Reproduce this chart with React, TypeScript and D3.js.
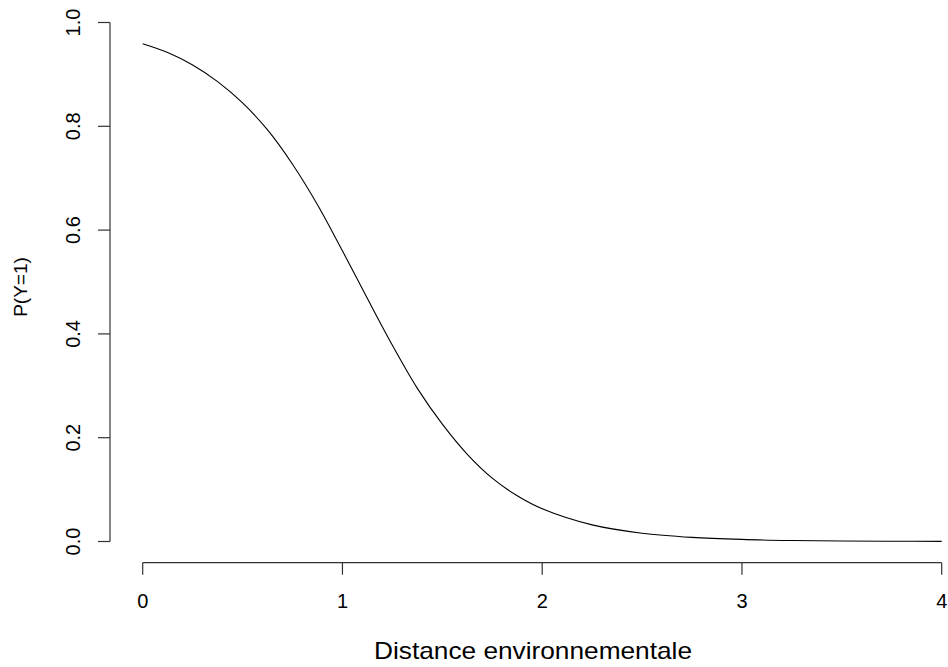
import React from "react";
import * as d3 from "d3";

// Curve values
const distance = [0, 0.125, 0.25, 0.375, 0.5, 0.625, 0.75, 0.875, 1.0, 1.125, 1.25, 1.375, 1.5, 1.625, 1.75, 1.875, 2.0, 2.25, 2.5, 2.75, 3.0, 3.25, 3.5, 3.75, 4.0];
const probability = [0.959, 0.942, 0.918, 0.886, 0.845, 0.793, 0.727, 0.649, 0.560, 0.468, 0.378, 0.295, 0.226, 0.168, 0.122, 0.088, 0.063, 0.032, 0.016, 0.008, 0.004, 0.002, 0.001, 0.0005, 0.0002];

const xTicks = [0, 1, 2, 3, 4];
const yTicks = [0, 0.2, 0.4, 0.6, 0.8, 1.0];
const xLabel = "Distance environnementale";
const yLabel = "P(Y=1)";

export default function App() {
  const W = 948, H = 667;
  const x = d3.scaleLinear().domain([0, 4]).range([142.7, 941.7]);
  const y = d3.scaleLinear().domain([0, 1]).range([541.5, 22.5]);
  const pts = distance.map((d, i) => [d, probability[i]] as [number, number]);
  const line = d3.line<[number, number]>()
    .x(d => x(d[0]))
    .y(d => y(d[1]))
    .curve(d3.curveCatmullRom.alpha(0.5));
  const axisColor = "#333";
  const font = "'Liberation Sans', Arial, sans-serif";
  const xAxisY = 562.7;
  const yAxisX = 110;
  return (
    <svg width={W} height={H} style={{ position: "absolute", left: 0, top: 0, background: "#fff" }} fontFamily={font}>
      <rect x={0} y={0} width={W} height={H} fill="#fff" />
      <path d={line(pts) || ""} fill="none" stroke="#000" strokeWidth={1.1} />
      {/* x axis */}
      <line x1={x(0)} x2={x(4)} y1={xAxisY} y2={xAxisY} stroke={axisColor} strokeWidth={1.2} />
      {xTicks.map(t => (
        <g key={"xt" + t}>
          <line x1={x(t)} x2={x(t)} y1={xAxisY} y2={xAxisY + 12} stroke={axisColor} strokeWidth={1.2} />
          <text x={x(t)} y={607.5} textAnchor="middle" fontSize={20} fill="#000">{d3.format("d")(t)}</text>
        </g>
      ))}
      {/* y axis */}
      <line x1={yAxisX} x2={yAxisX} y1={y(0)} y2={y(1)} stroke={axisColor} strokeWidth={1.2} />
      {yTicks.map(t => (
        <g key={"yt" + t}>
          <line x1={yAxisX - 12} x2={yAxisX} y1={y(t)} y2={y(t)} stroke={axisColor} strokeWidth={1.2} />
          <text transform={`translate(80,${y(t)}) rotate(-90)`} textAnchor="middle" fontSize={20} fill="#000">{d3.format(".1f")(t)}</text>
        </g>
      ))}
      <text x={533} y={658.5} textAnchor="middle" fontSize={24} textLength={318} lengthAdjust="spacingAndGlyphs" fill="#000">{xLabel}</text>
      <text transform={`translate(27,287) rotate(-90)`} textAnchor="middle" fontSize={19} fill="#000">{yLabel}</text>
    </svg>
  );
}
